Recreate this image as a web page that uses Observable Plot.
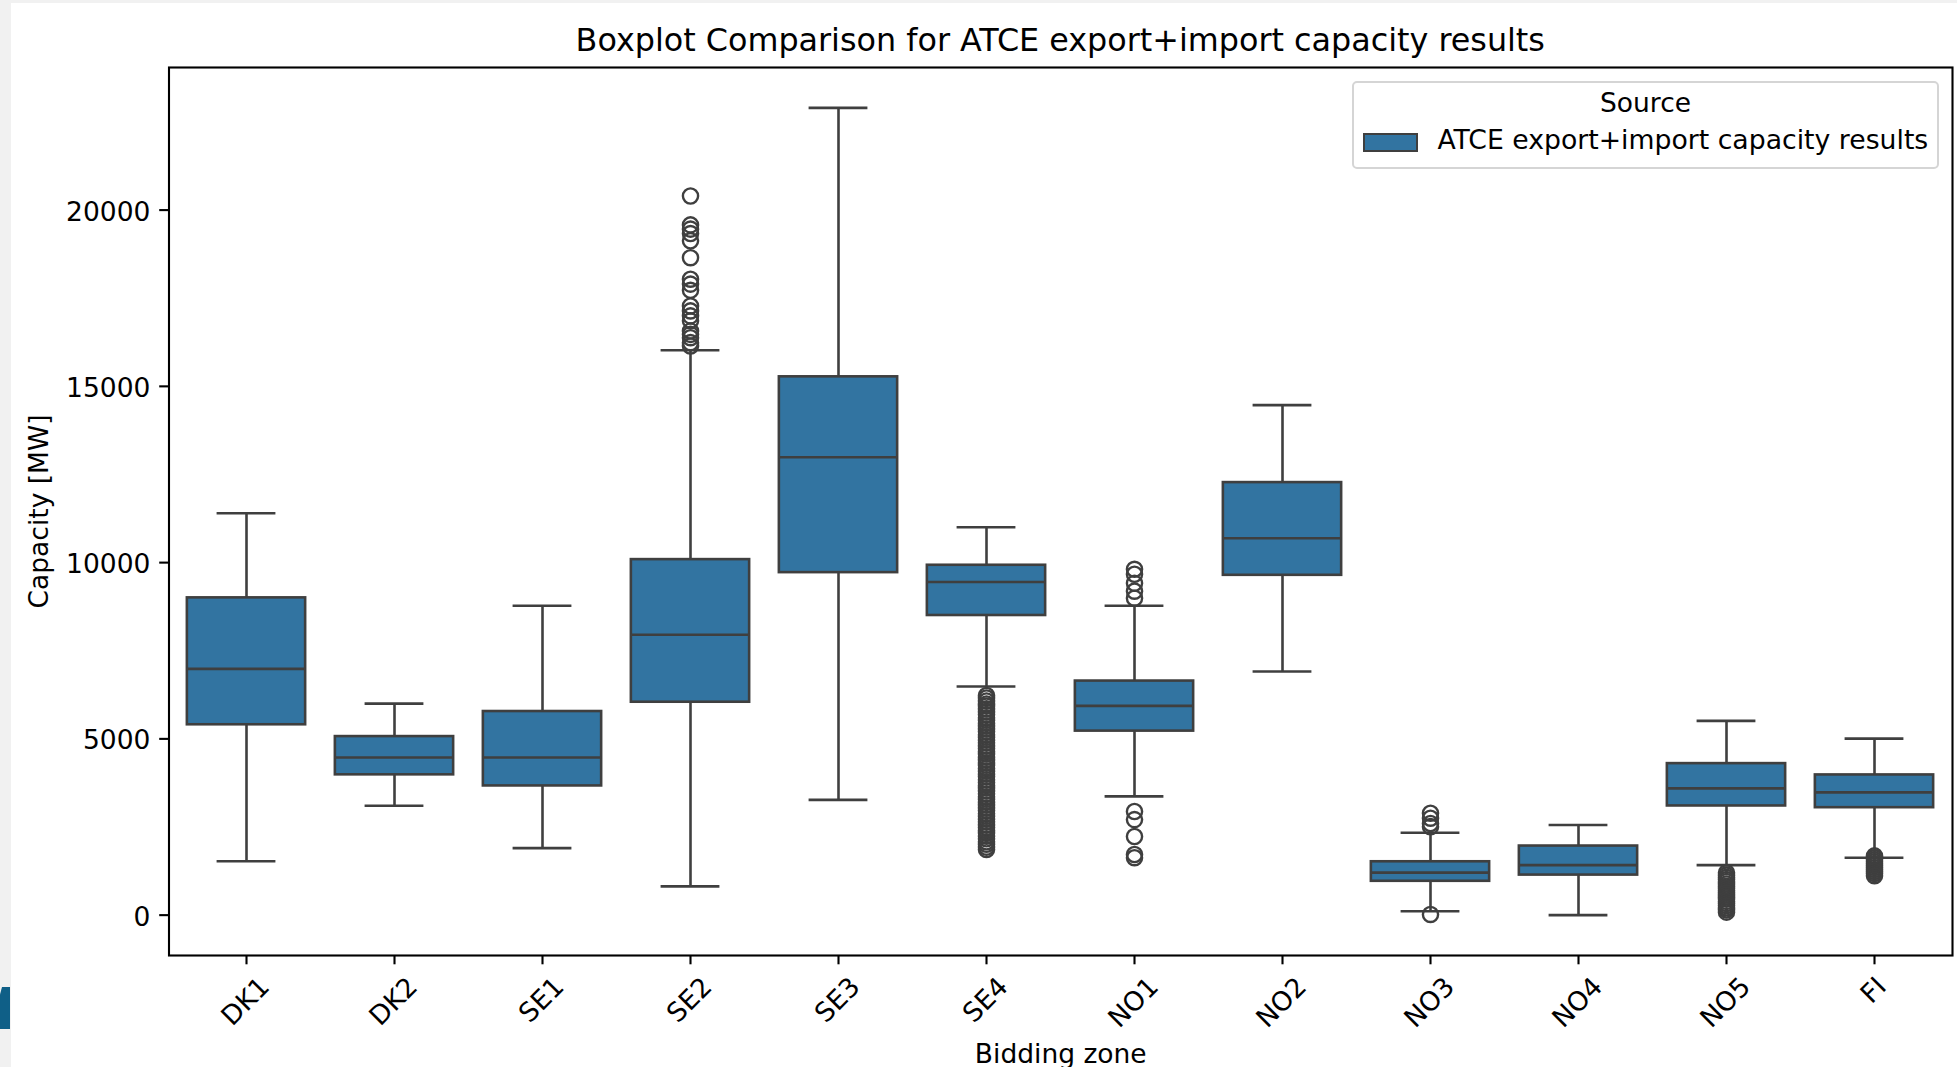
<!DOCTYPE html>
<html>
<head>
<meta charset="utf-8">
<script src="https://cdn.jsdelivr.net/npm/d3@7"></script>
<script src="https://cdn.jsdelivr.net/npm/@observablehq/plot@0.6"></script>
<style>
  html, body { margin: 0; padding: 0; }
  body { width: 1957px; height: 1067px; background: #f1f1f1; position: relative; overflow: hidden; font-family: "DejaVu Sans", sans-serif; color: #000; }
  #sheet { position: absolute; left: 11px; top: 3px; right: 0; bottom: 0; background: #ffffff; }
  #frag { position: absolute; left: 0; top: 987px; width: 10px; height: 42px; background: #0f5f87; clip-path: polygon(20% 0, 100% 0, 100% 100%, 0 100%, 0 18%); }
  #chart { position: absolute; left: 0; top: 0; }
  #title { position: absolute; left: 168.5px; width: 1783.5px; top: 20px; line-height: 40px; font-size: 31.8px; text-align: center; white-space: nowrap; }
  #legend { position: absolute; left: 1352px; top: 80.5px; width: 587px; height: 88.5px; box-sizing: border-box; border: 2px solid #d5d5d5; border-radius: 5px; background: rgba(255,255,255,0.8); }
  #legend .ttl { position: absolute; left: 0; width: 100%; top: 5px; line-height: 30px; font-size: 26.5px; text-align: center; white-space: nowrap; }
  #legend .sw { position: absolute; left: 9px; top: 50px; width: 54.5px; height: 19px; box-sizing: border-box; background: #3274a1; border: 2.4px solid #3f3f3f; }
  #legend .lab { position: absolute; left: 83.4px; top: 42.5px; line-height: 30px; font-size: 26.7px; white-space: nowrap; }
</style>
</head>
<body>
<div id="sheet"></div>
<div id="frag"></div>
<div id="chart"></div>
<div id="title">Boxplot Comparison for ATCE export+import capacity results</div>
<div id="legend">
  <div class="ttl">Source</div>
  <div class="sw"></div>
  <div class="lab">ATCE export+import capacity results</div>
</div>
<script>
// ---- data ----
const zones = ["DK1", "DK2", "SE1", "SE2", "SE3", "SE4", "NO1", "NO2", "NO3", "NO4", "NO5", "FI"];
const whiskerLow  = [1530, 3105, 1900,   815,  3270, 6486, 3370,  6910,  110,    0, 1420, 1630];
const q1          = [5400, 3980, 3665,  6040,  9716, 8500, 5220,  9640,  960, 1136, 3097, 3048];
const median      = [6985, 4470, 4470,  7955, 12990, 9450, 5937, 10690, 1205, 1420, 3597, 3483];
const q3          = [9000, 5065, 5776, 10085, 15270, 9925, 6640, 12270, 1514, 1960, 4298, 3977];
const whiskerHigh = [11400, 6000, 8778, 16023, 22900, 11005, 8778, 14468, 2338, 2557, 5511, 5008];

const outliersSE2 = [20400, 19580, 19460, 19335, 19130, 18650, 18040, 17900, 17725, 17280, 17140, 17000, 16860, 16570, 16475, 16380, 16240, 16145];
const outliersSE4 = [6230, 6160, 6075, 5990, 5930, 5850, 5765, 5690, 5600, 5530, 5440, 5365, 5280, 5210, 5120, 5045, 4960, 4890, 4800, 4725, 4640, 4570, 4480, 4405, 4320, 4250, 4160, 4085, 4000, 3930, 3840, 3765, 3680, 3610, 3520, 3445, 3360, 3290, 3200, 3125, 3040, 2970, 2880, 2805, 2720, 2650, 2560, 2485, 2400, 2330, 2240, 2165, 2080, 2010, 1930, 1860];
const outliersNO1 = [9810, 9670, 9415, 9190, 8990, 2940, 2710, 2230, 1720, 1630];
const outliersNO3 = [2890, 2750, 2600, 2510, 20];
const outliersNO5 = [1200, 1135, 1070, 1010, 950, 885, 820, 760, 700, 640, 575, 515, 455, 390, 330, 270, 210, 150, 85];
const outliersFI  = [1680, 1625, 1570, 1515, 1460, 1405, 1350, 1295, 1240, 1180, 1120];

const yTicks = [0, 5000, 10000, 15000, 20000];
const yDomain = [-1145, 24045];

// ---- tables built from the arrays ----
const stats = zones.map((zone, i) => ({zone, lo: whiskerLow[i], q1: q1[i], median: median[i], q3: q3[i], hi: whiskerHigh[i]}));
const outlierSets = {SE2: outliersSE2, SE4: outliersSE4, NO1: outliersNO1, NO3: outliersNO3, NO5: outliersNO5, FI: outliersFI};
const outliers = Object.entries(outlierSets).flatMap(([zone, vals]) => vals.map(value => ({zone, value})));

// ---- styling ----
const W = 1957, H = 1067;
const mL = 168.5, mR = 5, mT = 67, mB = 112;
const bw = (W - mL - mR) / zones.length;
const boxInset = 0.1 * bw;
const capInset = 0.3 * bw;
const boxFill = "#3274a1";
const lineColor = "#3f3f3f";
const lw = 2.6;
const fs = 26.5;

// rotated x tick labels: matplotlib centers the rotated bbox under the tick
const ctx = document.createElement("canvas").getContext("2d");
ctx.font = `${fs}px "DejaVu Sans"`;
const lineH = 0.968 * fs;
const baseShift = 0.276 * fs * Math.SQRT1_2;
const xLabelMarks = zones.map(z => {
  const w = ctx.measureText(z).width;
  const centerOffset = 9.3 + 9.3 + (w + lineH) / (2 * Math.SQRT2);
  return Plot.text([z], {
    x: d => d, text: d => d, frameAnchor: "bottom",
    rotate: -45, textAnchor: "middle", lineAnchor: "bottom",
    dx: baseShift, dy: centerOffset + baseShift, fill: "#000", fontSize: fs
  });
});

const chart = Plot.plot({
  width: W, height: H,
  marginLeft: mL, marginRight: mR, marginTop: mT, marginBottom: mB,
  style: {background: "transparent", fontFamily: "'DejaVu Sans', sans-serif", fontSize: fs + "px", color: "#000", overflow: "visible"},
  x: {type: "band", domain: zones, padding: 0, axis: null},
  y: {domain: yDomain, axis: null},
  marks: [
    Plot.ruleX(stats, {x: "zone", y1: "q3", y2: "hi", stroke: lineColor, strokeWidth: lw}),
    Plot.ruleX(stats, {x: "zone", y1: "lo", y2: "q1", stroke: lineColor, strokeWidth: lw}),
    Plot.barY(stats, {x: "zone", y1: "q1", y2: "q3", fill: boxFill, stroke: lineColor, strokeWidth: lw, insetLeft: boxInset, insetRight: boxInset}),
    Plot.tickY(stats, {x: "zone", y: "median", stroke: lineColor, strokeWidth: lw, insetLeft: boxInset, insetRight: boxInset}),
    Plot.tickY(stats, {x: "zone", y: "hi", stroke: lineColor, strokeWidth: lw, insetLeft: capInset, insetRight: capInset}),
    Plot.tickY(stats, {x: "zone", y: "lo", stroke: lineColor, strokeWidth: lw, insetLeft: capInset, insetRight: capInset}),
    Plot.dot(outliers, {x: "zone", y: "value", r: 7.6, stroke: lineColor, strokeWidth: 2.4, fill: "none"}),
    Plot.frame({stroke: "#000", strokeWidth: 2.1}),
    Plot.axisY({ticks: yTicks, tickSize: 9.3, strokeWidth: 2.1, stroke: "#000", fill: null, label: null}),
    Plot.axisY({ticks: yTicks, tickSize: 9.3, tickPadding: 9.3, stroke: null, fill: "#000", tickFormat: d3.format("d"), dy: 2, label: null}),
    Plot.axisX({tickSize: 9.3, strokeWidth: 2.1, stroke: "#000", fill: null, label: null}),
    ...xLabelMarks,
    Plot.text(["Capacity [MW]"], {text: d => d, frameAnchor: "left", rotate: -90, textAnchor: "middle", lineAnchor: "bottom", dx: 47 - mL, fill: "#000", fontSize: fs}),
    Plot.text(["Bidding zone"], {text: d => d, frameAnchor: "bottom", textAnchor: "middle", lineAnchor: "bottom", dy: 1062.5 - (H - mB), fill: "#000", fontSize: fs})
  ]
});
document.getElementById("chart").appendChild(chart);
</script>
</body>
</html>
